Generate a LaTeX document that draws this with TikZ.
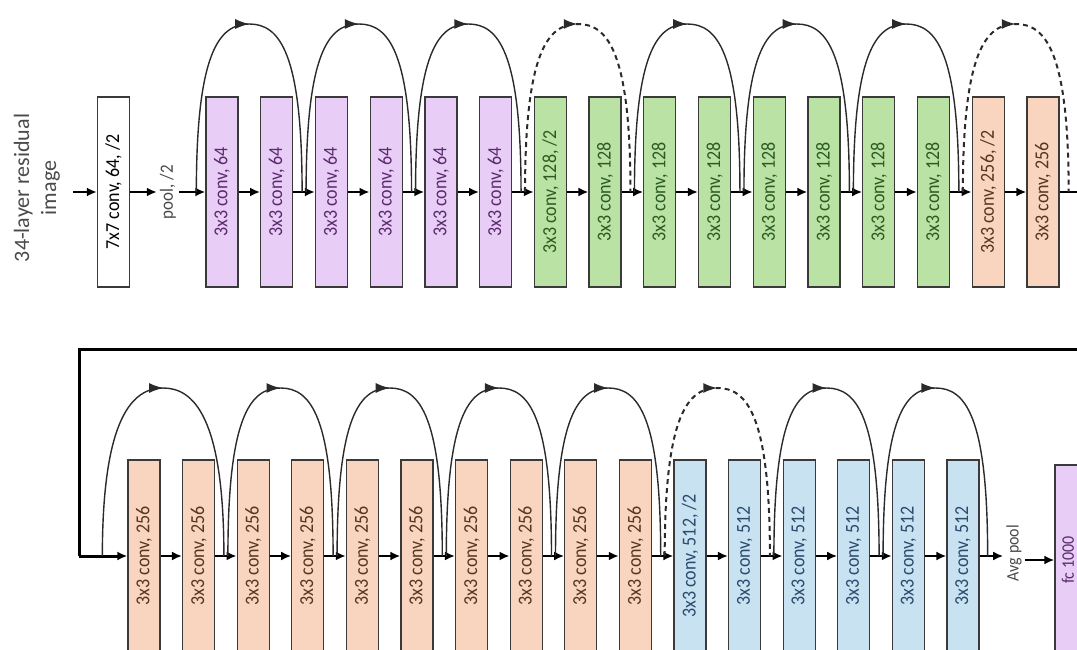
\documentclass[tikz,border=0pt]{standalone}
\usepackage{fontspec}
\setmainfont{Carlito}
\usetikzlibrary{calc,arrows.meta,decorations.markings}
\definecolor{boxline}{HTML}{3A3A3A}
\definecolor{purfill}{HTML}{E8CDF6}
\definecolor{purtext}{HTML}{5A2A6C}
\definecolor{grnfill}{HTML}{B9E2A4}
\definecolor{grntext}{HTML}{2C5A22}
\definecolor{orgfill}{HTML}{F9D5BF}
\definecolor{orgtext}{HTML}{55361F}
\definecolor{blufill}{HTML}{C8E2F2}
\definecolor{blutext}{HTML}{2A4A6E}
\definecolor{labgray}{HTML}{4A4A4A}
\definecolor{arcgray}{HTML}{2A2A2A}
\newcommand\boxfont{\fontsize{18}{20}\selectfont}
\newcommand\rt[1]{\rotatebox{90}{\scalebox{1}[1.1]{#1}}}
\newcommand\resarc[3]{\draw[#3] ($(#1)+(2,0)$) .. controls +(0,-140) and +(-30,0) .. ($(#1)!0.5!(#2)+(0,-168)$) .. controls +(30,0) and +(0,-140) .. ($(#2)+(-2,0)$);}
\tikzset{
  box/.style={draw=boxline, line width=1.3pt, minimum width=32pt, minimum height=190pt, inner sep=0pt, font=\boxfont},
  pur/.style={box, fill=purfill, text=purtext},
  grn/.style={box, fill=grnfill, text=grntext},
  org/.style={box, fill=orgfill, text=orgtext},
  blu/.style={box, fill=blufill, text=blutext},
  lowbox/.style={minimum height=192pt},
  flow/.style={line width=2pt, black, -{Latex[length=10pt,width=9pt]}},
  bigline/.style={line width=3pt, black},
  skiparc/.style={line width=1.4pt, arcgray, postaction={decorate},
    decoration={markings, mark=at position 0.5 with {\arrow{Latex[length=14pt,width=10pt]}}}},
  dskiparc/.style={skiparc, line width=2pt, dash pattern=on 5pt off 4pt},
  lbl/.style={text=labgray, inner sep=3pt}
}
\begin{document}
\begin{tikzpicture}[x=1pt,y=-1pt]
\useasboundingbox (0,0) rectangle (1077,650);
\clip (0,0) rectangle (1077,650);

% ---- top row ----
\node[lbl, rotate=90, align=center, font=\fontsize{22}{27}\selectfont, inner sep=0pt] (img) at (37,188) {34-layer residual\\image};
\coordinate (imgout) at (73,192);
\node[box, fill=white, text=black] (c7) at (113.5,192) {\rt{7x7 conv, 64, /2}};
\node[lbl, font=\fontsize{17}{19}\selectfont] (pool) at (168,192) {\rt{pool, /2}};

\node[pur] (t1) at (222.0,192) {\rt{3x3 conv, 64}};
\node[pur] (t2) at (276.7,192) {\rt{3x3 conv, 64}};
\node[pur] (t3) at (331.5,192) {\rt{3x3 conv, 64}};
\node[pur] (t4) at (386.2,192) {\rt{3x3 conv, 64}};
\node[pur] (t5) at (440.9,192) {\rt{3x3 conv, 64}};
\node[pur] (t6) at (495.7,192) {\rt{3x3 conv, 64}};
\node[grn] (t7) at (550.4,192) {\rt{3x3 conv, 128, /2}};
\node[grn] (t8) at (605.1,192) {\rt{3x3 conv, 128}};
\node[grn] (t9) at (659.8,192) {\rt{3x3 conv, 128}};
\node[grn] (t10) at (714.6,192) {\rt{3x3 conv, 128}};
\node[grn] (t11) at (769.3,192) {\rt{3x3 conv, 128}};
\node[grn] (t12) at (824.0,192) {\rt{3x3 conv, 128}};
\node[grn] (t13) at (878.8,192) {\rt{3x3 conv, 128}};
\node[grn] (t14) at (933.5,192) {\rt{3x3 conv, 128}};
\node[org] (t15) at (988.2,192) {\rt{3x3 conv, 256, /2}};
\node[org] (t16) at (1043.0,192) {\rt{3x3 conv, 256}};

\draw[flow] (imgout) -- (c7.west);
\draw[flow] (c7.east) -- (pool.west);
\draw[flow] (pool.east) -- (t1.west);
\foreach \i in {1,...,15} {
  \pgfmathtruncatemacro\j{\i+1}
  \draw[flow] (t\i.east) -- (t\j.west);
  \coordinate (tg\i) at ($(t\i.east)!0.5!(t\j.west)$);
}
\coordinate (tg0) at ($(t1.west)+(-11,0)$);
\coordinate (tg16) at ($(t16.east)+(11,0)$);
\coordinate (topexit) at (1085,192);
\draw[line width=2.8pt] (t16.east) -- (topexit);

\resarc{tg0}{tg2}{skiparc}
\resarc{tg2}{tg4}{skiparc}
\resarc{tg4}{tg6}{skiparc}
\resarc{tg6}{tg8}{dskiparc}
\resarc{tg8}{tg10}{skiparc}
\resarc{tg10}{tg12}{skiparc}
\resarc{tg12}{tg14}{skiparc}
\resarc{tg14}{tg16}{dskiparc}

% ---- bottom row ----
\node[org, lowbox] (b1) at (144.0,556) {\rt{3x3 conv, 256}};
\node[org, lowbox] (b2) at (198.6,556) {\rt{3x3 conv, 256}};
\node[org, lowbox] (b3) at (253.2,556) {\rt{3x3 conv, 256}};
\node[org, lowbox] (b4) at (307.8,556) {\rt{3x3 conv, 256}};
\node[org, lowbox] (b5) at (362.4,556) {\rt{3x3 conv, 256}};
\node[org, lowbox] (b6) at (417.0,556) {\rt{3x3 conv, 256}};
\node[org, lowbox] (b7) at (471.6,556) {\rt{3x3 conv, 256}};
\node[org, lowbox] (b8) at (526.2,556) {\rt{3x3 conv, 256}};
\node[org, lowbox] (b9) at (580.8,556) {\rt{3x3 conv, 256}};
\node[org, lowbox] (b10) at (635.4,556) {\rt{3x3 conv, 256}};
\node[blu, lowbox] (b11) at (690.0,556) {\rt{3x3 conv, 512, /2}};
\node[blu, lowbox] (b12) at (744.6,556) {\rt{3x3 conv, 512}};
\node[blu, lowbox] (b13) at (799.2,556) {\rt{3x3 conv, 512}};
\node[blu, lowbox] (b14) at (853.8,556) {\rt{3x3 conv, 512}};
\node[blu, lowbox] (b15) at (908.4,556) {\rt{3x3 conv, 512}};
\node[blu, lowbox] (b16) at (963.0,556) {\rt{3x3 conv, 512}};
\node[lbl, font=\fontsize{16}{18}\selectfont] (avg) at (1014,553) {\rt{Avg pool}};
\node[pur, minimum width=26pt, minimum height=190pt, font=\fontsize{16}{18}\selectfont] (fc) at (1068,560) {\rt{fc 1000}};

\coordinate (botentry) at (1085,349);
\coordinate (corner) at (79,349);
\draw[bigline] (botentry) -- (corner) -- (corner |- b1.west);
\draw[flow, line width=3pt] (corner |- b1.west) -- (b1.west);
\foreach \i in {1,...,15} {
  \pgfmathtruncatemacro\j{\i+1}
  \draw[flow] (b\i.east) -- (b\j.west);
  \coordinate (bg\i) at ($(b\i.east)!0.5!(b\j.west)$);
}
\coordinate (bg0) at ($(b1.west)+(-27,0)$);
\coordinate (bg16) at ($(b16.east)+(10,0)$);
\draw[flow] (b16.east) -- (avg.west |- b16.east);
\draw[flow] (avg.east |- fc.west) -- (fc.west);

\resarc{bg0}{bg2}{skiparc}
\resarc{bg2}{bg4}{skiparc}
\resarc{bg4}{bg6}{skiparc}
\resarc{bg6}{bg8}{skiparc}
\resarc{bg8}{bg10}{skiparc}
\resarc{bg10}{bg12}{dskiparc}
\resarc{bg12}{bg14}{skiparc}
\resarc{bg14}{bg16}{skiparc}
\end{tikzpicture}
\end{document}
